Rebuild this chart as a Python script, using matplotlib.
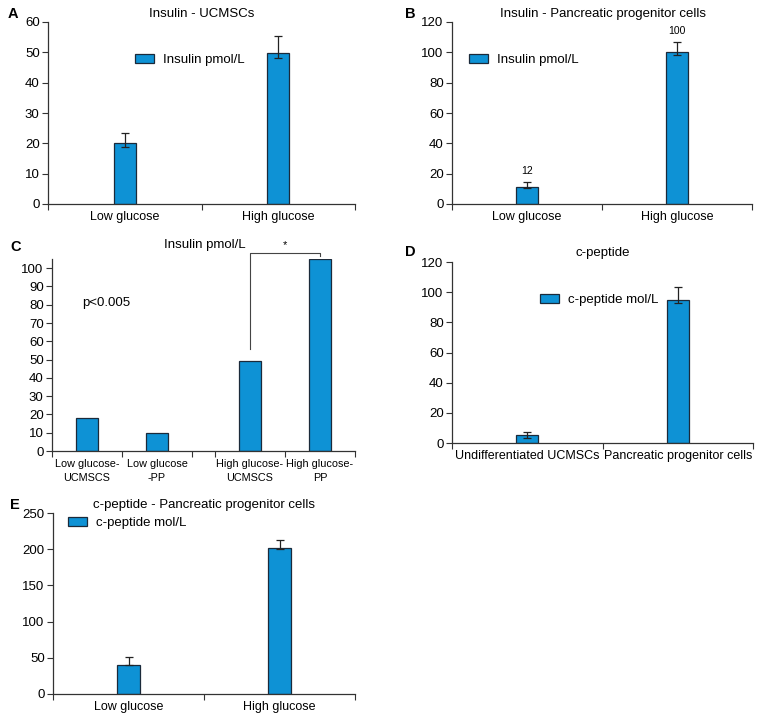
import matplotlib.pyplot as plt
from matplotlib.patches import Patch

plt.rcParams['font.family'] = ['Liberation Sans', 'DejaVu Sans']
plt.rcParams['font.size'] = 9

W, H = 761, 722
BAR = '#0e92d5'
EDGE = '#1b2a3a'
AXC = '#333333'

# Panel A - Insulin UCMSCs
a_cats = ['Low glucose', 'High glucose']
a_vals = [20, 49.7]
a_err_lo = [1.3, 1.5]
a_err_hi = [3.5, 5.6]

# Panel B - Insulin pancreatic progenitor cells
b_cats = ['Low glucose', 'High glucose']
b_vals = [11.5, 100]
b_err_lo = [1.2, 1.5]
b_err_hi = [3.0, 7.0]
b_labels = ['12', '100']

# Panel C - Insulin pmol/L comparison (two pairs of groups)
c_cats = ['Low glucose-\nUCMSCS', 'Low glucose\n-PP', 'High glucose-\nUCMSCS', 'High glucose-\nPP']
c_vals = [18, 10, 49, 105]

# Panel D - c-peptide
d_cats = ['Undifferentiated UCMSCs', 'Pancreatic progenitor cells']
d_vals = [5, 95]
d_err_lo = [1.5, 2.0]
d_err_hi = [2.0, 8.5]

# Panel E - c-peptide pancreatic progenitor cells
e_cats = ['Low glucose', 'High glucose']
e_vals = [40, 201]
e_err_lo = [0.5, 1.0]
e_err_hi = [11, 12]

fig = plt.figure(figsize=(W / 100, H / 100), dpi=100)


def px_axes(left, right, top, bottom):
    return fig.add_axes([left / W, 1 - bottom / H, (right - left) / W, (bottom - top) / H])


def style(ax, cats, ymax, ystep, edges=None, centers=None, lab_size=9, pad=5, ls=1.2):
    n = len(cats)
    if edges is None:
        edges = list(range(n + 1))
    if centers is None:
        centers = [i + 0.5 for i in range(n)]
    ax.set_xlim(edges[0], edges[-1])
    ax.set_ylim(0, ymax)
    for s in ['top', 'right']:
        ax.spines[s].set_visible(False)
    for s in ['left', 'bottom']:
        ax.spines[s].set_color(AXC)
        ax.spines[s].set_linewidth(0.9)
    ax.set_xticks(edges)
    ax.set_xticklabels([])
    ax.set_xticks(centers, minor=True)
    ax.set_xticklabels(cats, minor=True, fontsize=lab_size, linespacing=ls)
    ax.tick_params(axis='x', which='major', length=4, color=AXC)
    ax.tick_params(axis='x', which='minor', length=0, pad=pad)
    ax.set_yticks(range(0, ymax + 1, ystep))
    ax.tick_params(axis='y', length=4, color=AXC, labelsize=9.5, pad=2)
    return centers


def bars(ax, xs, vals, width, lo=None, hi=None):
    ax.bar(xs, vals, width=width, color=BAR, edgecolor=EDGE, linewidth=0.9, zorder=2)
    if lo is not None:
        ax.errorbar(xs, vals, yerr=[lo, hi], fmt='none', ecolor='#222222',
                    elinewidth=0.9, capsize=3, capthick=0.9, zorder=3)


def legend(ax, label, x, y):
    h = Patch(facecolor=BAR, edgecolor=EDGE, linewidth=0.9)
    ax.legend([h], [label], loc='center left', bbox_to_anchor=(x / W, 1 - y / H),
              bbox_transform=fig.transFigure, frameon=False, borderpad=0,
              borderaxespad=0, handlelength=1.45, handleheight=0.75,
              handletextpad=0.7, fontsize=9.5)


def letter(x, y, s):
    fig.text(x / W, 1 - y / H, s, ha='left', va='center', fontsize=10.5, fontweight='bold')


def title(x, y, s):
    fig.text(x / W, 1 - y / H, s, ha='center', va='center', fontsize=9.5)


# A
ax = px_axes(48, 355, 22, 204)
xs = style(ax, a_cats, 60, 10)
bars(ax, xs, a_vals, 0.143, a_err_lo, a_err_hi)
legend(ax, 'Insulin pmol/L', 135, 60)
title(202, 14, 'Insulin - UCMSCs')
letter(8, 14, 'A')

# B
ax = px_axes(452, 752, 22, 204)
xs = style(ax, b_cats, 120, 20)
bars(ax, xs, b_vals, 0.147, b_err_lo, b_err_hi)
for x, v, e, t in zip(xs, b_vals, b_err_hi, b_labels):
    ax.annotate(t, (x, v + e), xytext=(0, 4), textcoords='offset points',
                ha='center', va='bottom', fontsize=7.5)
legend(ax, 'Insulin pmol/L', 469, 60)
title(603, 14, 'Insulin - Pancreatic progenitor cells')
letter(405, 14, 'B')

# C - two group pairs separated by a small gap
gap = 0.33
c_edges = [0, 1, 2, 2 + gap, 3 + gap, 4 + gap]
c_centers = [0.5, 1.5, 2.5 + gap, 3.5 + gap]
ax = px_axes(52, 355, 259, 451)
xs = style(ax, c_cats, 105, 10, edges=c_edges, centers=c_centers, lab_size=7.8, pad=6, ls=1.5)
ax.set_yticks(range(0, 101, 10))
bars(ax, xs, c_vals, 0.31)
ax.plot([xs[2], xs[2], xs[3], xs[3]], [56, 108.5, 108.5, 106.5], color='#444444',
        linewidth=0.8, clip_on=False)
ax.text((xs[2] + xs[3]) / 2, 110, '*', ha='center', va='bottom', fontsize=8)
ax.text(0.78, 81, 'p<0.005', ha='center', va='center', fontsize=9.5)
title(205, 245, 'Insulin pmol/L')
letter(10, 247, 'C')

# D
ax = px_axes(452, 753, 262, 443)
xs = style(ax, d_cats, 120, 20)
bars(ax, xs, d_vals, 0.147, d_err_lo, d_err_hi)
legend(ax, 'c-peptide mol/L', 540, 300)
title(603, 253, 'c-peptide')
letter(405, 252, 'D')

# E
ax = px_axes(53, 355, 513, 694)
xs = style(ax, e_cats, 250, 50)
bars(ax, xs, e_vals, 0.147, e_err_lo, e_err_hi)
legend(ax, 'c-peptide mol/L', 68, 523)
title(204, 505, 'c-peptide - Pancreatic progenitor cells')
letter(10, 505, 'E')

fig.savefig('out.png', dpi=100, facecolor='white')
